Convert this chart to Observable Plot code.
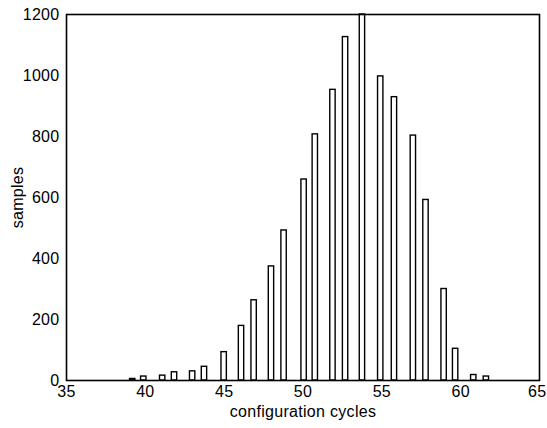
<!DOCTYPE html>
<html>
<head>
<meta charset="utf-8">
<script src="https://cdn.jsdelivr.net/npm/d3@7"></script>
<script src="https://cdn.jsdelivr.net/npm/@observablehq/plot@0.6"></script>
<style>
  html, body { margin: 0; padding: 0; background: #fff; }
  svg text { letter-spacing: 0.3px; }
</style>
</head>
<body>
<div id="chart"></div>
<script>
// configuration cycles (bar positions)
const cycles = [39.2, 39.9, 41.1, 41.85, 43.0, 43.75, 45.0, 46.1, 46.9, 48.0, 48.8, 50.07,
                50.78, 51.9, 52.7, 53.77, 54.93, 55.8, 57.0, 57.8, 58.95, 59.68, 60.83, 61.63];
// number of samples
const samples = [5, 13, 16, 27, 30, 45, 93, 179, 263, 374, 492, 659,
                 807, 953, 1126, 1200, 997, 929, 803, 592, 300, 104, 18, 13];
const xTicks = [35, 40, 45, 50, 55, 60];
const xTickLast = [65];
const yTicks = [0, 200, 400, 600, 800, 1000, 1200];
const halfWidth = 0.17;

const data = cycles.map((c, i) => ({c, s: samples[i]}));
const fmt = d => String(d);

const chart = Plot.plot({
  width: 547,
  height: 428,
  marginLeft: 66,
  marginRight: 8,
  marginTop: 14,
  marginBottom: 48,
  style: {fontFamily: "'Liberation Sans', Arial, sans-serif", background: "#fff", color: "#000"},
  x: {domain: [35, 65]},
  y: {domain: [0, 1200]},
  marks: [
    Plot.rectY(data, {x1: d => d.c - halfWidth, x2: d => d.c + halfWidth, y: "s", fill: "#fff", stroke: "#000", strokeWidth: 1.4}),
    Plot.frame({stroke: "#000", strokeWidth: 1.6}),
    Plot.axisX({ticks: xTicks, tickFormat: fmt, tickSize: 0, tickPadding: 5, fontSize: 16,
                label: "configuration cycles", labelAnchor: "center", labelOffset: 36, labelArrow: "none"}),
    Plot.axisX({ticks: xTickLast, tickFormat: fmt, tickSize: 0, tickPadding: 5, fontSize: 16,
                textAnchor: "end", dx: 7, label: null}),
    Plot.axisY({ticks: yTicks, tickFormat: fmt, tickSize: 0, tickPadding: 7, fontSize: 16,
                label: "samples", labelAnchor: "center", labelOffset: 55, labelArrow: "none"})
  ]
});
document.getElementById("chart").appendChild(chart);
</script>
</body>
</html>
